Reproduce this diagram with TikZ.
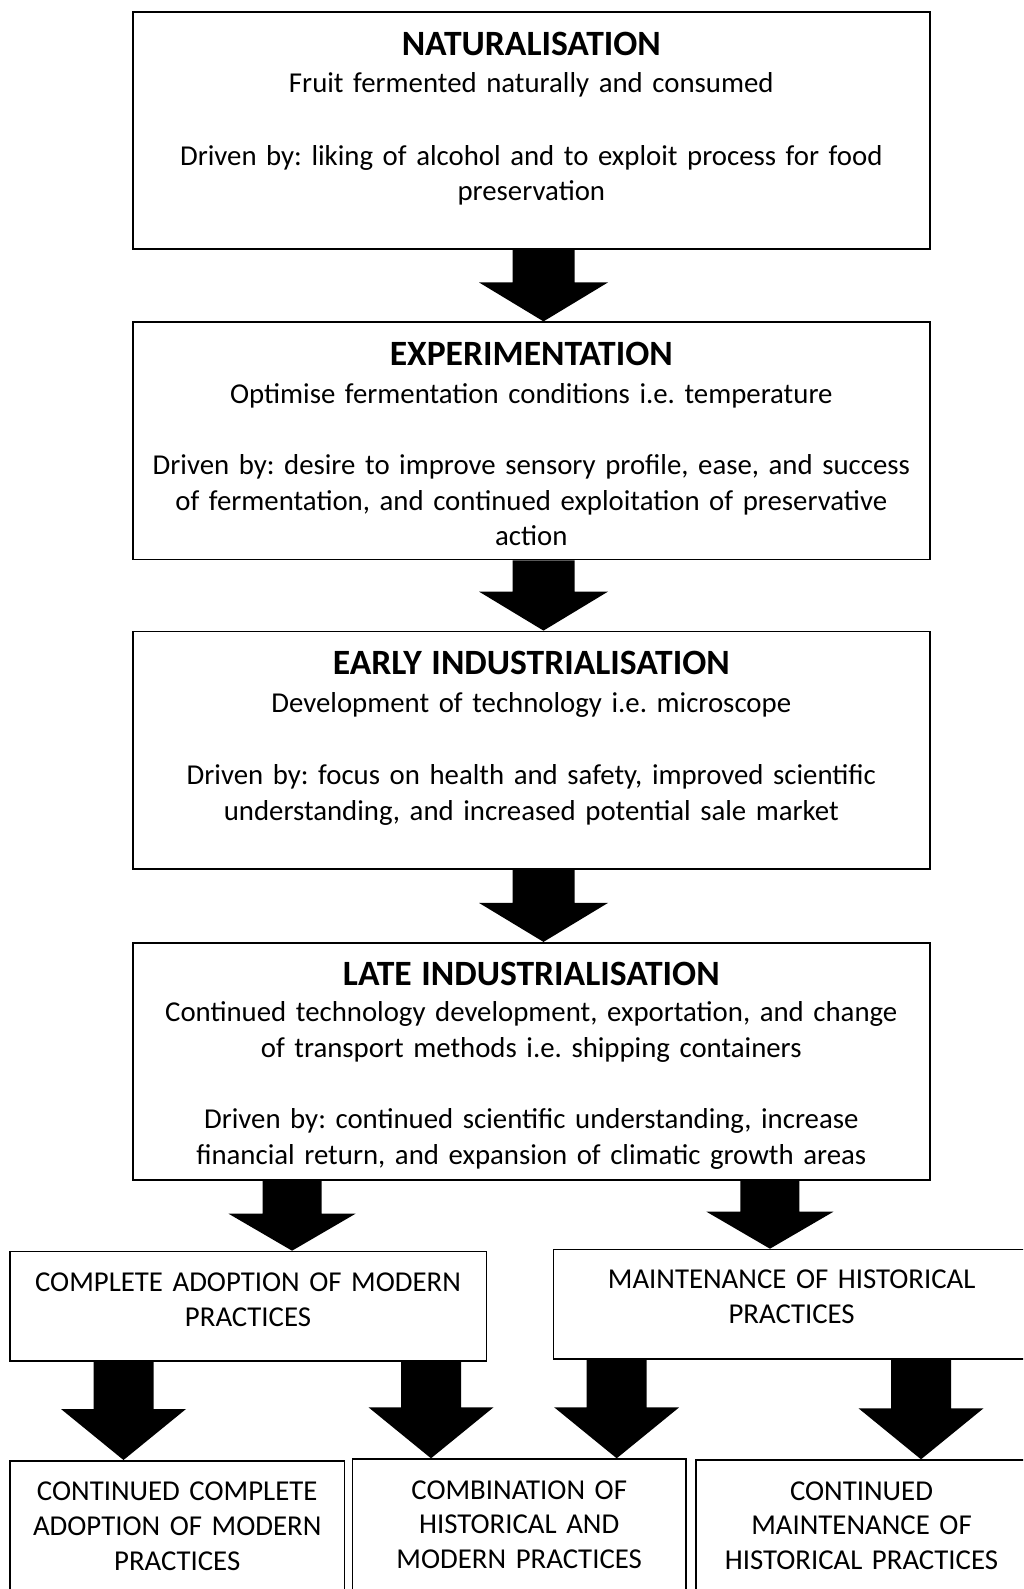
\documentclass[tikz,border=0pt]{standalone}
\usepackage{fontspec}
\setmainfont{Carlito}
\usetikzlibrary{calc}
\frenchspacing

\newcommand{\stagetitle}[1]{{\fontsize{17.8pt}{17.8pt}\selectfont\bfseries #1}}

\begin{document}
\begin{tikzpicture}[
        x=0.5pt, y=-0.5pt,
        stage/.style={rectangle, draw, line width=0.8pt, text width=398.4pt, align=center,
          inner sep=0pt, anchor=north, text height=21.6pt, text depth=97.05pt,
          font={\fontsize{14.4pt}{17.8pt}\selectfont\spaceskip=0.19em plus 0.05em}},
        outcome/.style={rectangle, draw, line width=0.8pt, align=center, inner sep=0pt,
          anchor=north, text height=20pt, font={\fontsize{14.4pt}{17.3pt}\selectfont}},
        bigarrow/.style n args={3}{fill=black, draw=none, to path={
          let \p1=(\tikztostart), \p2=(\tikztotarget) in
          (\x2-#1,\y1) -- (\x2-#1,\y2+#3) -- (\x2-#2,\y2+#3) -- (\x2,\y2)
          -- (\x2+#2,\y2+#3) -- (\x2+#1,\y2+#3) -- (\x2+#1,\y1) -- cycle}}
      ]
        \useasboundingbox (0,0) rectangle (1023,1589);
        \clip (0,0) rectangle (1023,1589);

        % Stages
        \node[stage] (natural) at (531.3,11.2) {\stagetitle{NATURALISATION}\\[1pt]
          Fruit fermented naturally and consumed\\[18.5pt]
          Driven by: liking of alcohol and to exploit process for food\\
          preservation};
        \node[stage] (experiment) at (531.3,321.4) {\stagetitle{EXPERIMENTATION}\\[1pt]
          Optimise fermentation conditions i.e. temperature\\[18pt]
          Driven by: desire to improve sensory profile, ease, and success\\
          of fermentation, and continued exploitation of preservative\\
          action};
        \node[stage] (early) at (531.3,630.6) {\stagetitle{EARLY INDUSTRIALISATION}\\[1pt]
          Development of technology i.e. microscope\\[18.5pt]
          Driven by: focus on health and safety, improved scientific\\
          understanding, and increased potential sale market};
        \node[stage] (late) at (531.3,941.9) {\stagetitle{LATE INDUSTRIALISATION}\\
          Continued technology development, exportation, and change\\
          of transport methods i.e. shipping containers\\[18pt]
          Driven by: continued scientific understanding, increase\\
          financial return, and expansion of climatic growth areas};

        % Outcomes
        \node[outcome, text width=238.25pt, text height=20.15pt, text depth=34.5pt] (modern)
          at (248.05,1250.7) {COMPLETE ADOPTION OF MODERN\\PRACTICES};
        \node[outcome, text width=238.35pt, text height=19.65pt, text depth=35.15pt] (historic)
          at (791.65,1248.7) {MAINTENANCE OF HISTORICAL\\PRACTICES};
        \node[outcome, text width=167.4pt, text depth=80pt] (contmodern)
          at (177.2,1460) {CONTINUED COMPLETE\\ADOPTION OF MODERN\\PRACTICES};
        \node[outcome, text width=166.8pt, text depth=80pt] (combined)
          at (519.2,1458.3) {COMBINATION OF\\HISTORICAL AND\\MODERN PRACTICES};
        \node[outcome, text width=165.8pt, text depth=80pt] (conthistoric)
          at (861.5,1459.3) {CONTINUED\\MAINTENANCE OF\\HISTORICAL PRACTICES};

        % Arrows
        \draw[bigarrow={15.5pt}{32.25pt}{19.5pt}] (natural.south) to ([shift={(12.2,0)}]experiment.north);
        \draw[bigarrow={15.5pt}{32.25pt}{19.5pt}] (experiment.south) to ([shift={(12.2,0)}]early.north);
        \draw[bigarrow={15.5pt}{32.25pt}{19.5pt}] (early.south) to ([shift={(12.2,0)}]late.north);
        \draw[bigarrow={14.75pt}{31.75pt}{18.5pt}] (late.south) to ([shift={(44,0)}]modern.north);
        \draw[bigarrow={14.75pt}{31.75pt}{18.5pt}] (late.south) to ([shift={(-21.7,0)}]historic.north);
        \draw[bigarrow={15pt}{31.25pt}{25.5pt}] (modern.south) to ([shift={(-53.7,0)}]contmodern.north);
        \draw[bigarrow={15pt}{31.25pt}{25.5pt}] (modern.south) to ([shift={(-88.2,0)}]combined.north);
        \draw[bigarrow={15pt}{31.25pt}{25.5pt}] (historic.south) to ([shift={(97.5,0)}]combined.north);
        \draw[bigarrow={15pt}{31.25pt}{25.5pt}] (historic.south) to ([shift={(59.5,0)}]conthistoric.north);

      \end{tikzpicture}
\end{document}
